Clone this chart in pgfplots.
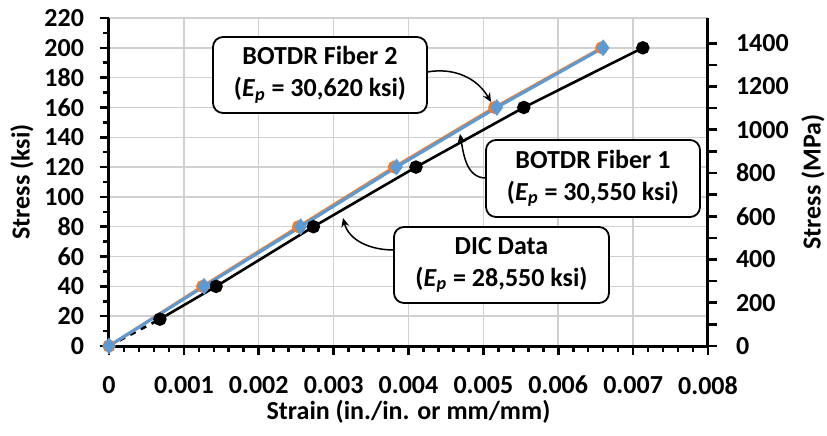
\documentclass[border=0pt]{standalone}
\usepackage{fontspec}
\setmainfont{Carlito}
\usepackage{pgfplots}
\pgfplotsset{compat=1.18}
\usetikzlibrary{arrows.meta}
\definecolor{xlblue}{HTML}{5B9BD5}
\definecolor{xlorange}{HTML}{ED7D31}
\definecolor{gridgray}{HTML}{D0D0D0}
\begin{document}
\begin{tikzpicture}[font=\fontsize{13}{15}\selectfont\bfseries]
\path[use as bounding box] (-54.5pt,-44.5pt) rectangle (359pt,173pt);
\begin{axis}[
 at={(0,0)}, anchor=south west, scale only axis, width=299.5pt, height=164pt,
 xmin=0, xmax=0.008, ymin=0, ymax=220,
 axis x line*=bottom, axis y line*=left,
 axis line style={line width=1.5pt, black},
 xtick={0,0.001,0.002,0.003,0.004,0.005,0.006,0.007,0.008},
 xticklabels={0,0.001,0.002,0.003,0.004,0.005,0.006,0.007,0.008},
 scaled x ticks=false,
 ytick={0,20,40,60,80,100,120,140,160,180,200,220},
 minor x tick num=4, minor y tick num=1,
 tick align=outside, major tick length=4.5pt, minor tick length=3pt,
 tick style={black, line width=1.3pt},
 grid=major, major grid style={gridgray, line width=0.75pt},
 tick label style={font=\fontsize{13}{15}\selectfont\bfseries},
 xticklabel style={yshift=-7pt},
 yticklabel style={xshift=-4.5pt},
 /pgf/number format/assume math mode=true,
 clip=false,
]
\addplot[black, dashed, line width=1.3pt, forget plot] coordinates {(0,0) (0.00068,18)};
\addplot[black, line width=1.3pt, mark=*, mark size=2.7pt] coordinates {
 (0.00068,18) (0.00143,40) (0.00273,80) (0.0041,120) (0.00554,160) (0.00713,200)};
\addplot[xlorange, line width=1.5pt, mark=*, mark size=2.5pt] coordinates {
 (0,0) (0.00125,40) (0.00253,80) (0.00381,120) (0.00515,160) (0.00658,200)};
\addplot[xlblue, line width=1.5pt, mark=diamond*, mark size=3pt] coordinates {
 (0,0) (0.00127,40) (0.00256,80) (0.00384,120) (0.00518,160) (0.0066,200)};
\end{axis}
\begin{axis}[
 at={(0,0)}, anchor=south west, scale only axis, width=299.5pt, height=164pt,
 xmin=0, xmax=0.008, ymin=0, ymax=1516.85,
 axis x line=none, axis y line*=right,
 axis line style={line width=1.5pt, black},
 ytick={0,200,400,600,800,1000,1200,1400}, minor y tick num=1,
 tick align=outside, major tick length=4.5pt, minor tick length=4.5pt,
 tick style={black, line width=1.3pt},
 tick label style={font=\fontsize{13}{15}\selectfont\bfseries},
 yticklabel style={xshift=6pt},
 /pgf/number format/assume math mode=true,
 /pgf/number format/1000 sep={},
]
\addplot[draw=none] coordinates {(0,0) (0.008,1500)};
\end{axis}
\node[rotate=90] at (-43.5pt,82pt) {Stress (ksi)};
\node[rotate=90] at (352pt,82pt) {Stress (MPa)};
\node at (149.75pt,-33pt) {Strain (in./in. or mm/mm)};
\tikzset{anno/.style={draw=black, line width=0.9pt, rounded corners=5pt, fill=white, align=center, inner sep=0pt, font=\fontsize{13}{16}\selectfont\bfseries}}
\node[anno, minimum width=107pt, minimum height=38pt] at (105.5pt,135.5pt) {BOTDR Fiber 2\\(\textit{E}\textsubscript{\textit{p}} = 30,620 ksi)};
\node[anno, minimum width=107pt, minimum height=38.5pt] at (242pt,83.75pt) {BOTDR Fiber 1\\(\textit{E}\textsubscript{\textit{p}} = 30,550 ksi)};
\node[anno, minimum width=107.5pt, minimum height=38pt] at (196.25pt,40.5pt) {DIC Data\\(\textit{E}\textsubscript{\textit{p}} = 28,550 ksi)};
\draw[line width=0.75pt, -{Stealth[length=4.5pt,width=4pt]}] (159pt,137pt) to[out=10,in=120] (191pt,122pt);
\draw[line width=0.75pt, -{Stealth[length=4.5pt,width=4pt]}] (188.5pt,84pt) to[out=180,in=-80] (175.5pt,106pt);
\draw[line width=0.75pt, -{Stealth[length=4.5pt,width=4pt]}] (142.5pt,48pt) to[out=180,in=-75] (117pt,64pt);
\end{tikzpicture}
\end{document}
